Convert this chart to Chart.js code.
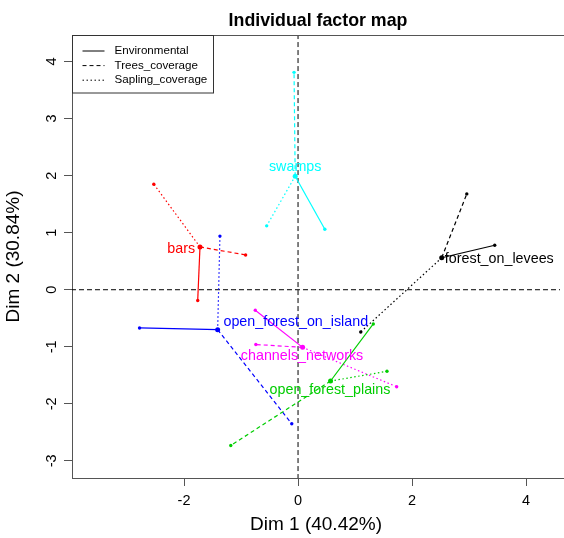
<!DOCTYPE html>
<html>
<head>
<meta charset="utf-8">
<title>Individual factor map</title>
<script src="https://cdn.jsdelivr.net/npm/chart.js@4.4.1/dist/chart.umd.min.js"></script>
<style>
  html, body { margin: 0; padding: 0; background: #fff; }
  #wrap { position: relative; width: 564px; height: 538px; }
</style>
</head>
<body>
<div id="wrap"><canvas id="chart"></canvas></div>
<script>
// sites and their colours
const categories = ['forest_on_levees', 'bars', 'open_forest_plains', 'open_forest_on_island', 'swamps', 'channels_networks'];
const categoryColors = ['#000000', '#FF0000', '#00CD00', '#0000FF', '#00FFFF', '#FF00FF'];

// mean points
const meanX = [2.52, -1.72, 0.57, -1.41, -0.05, 0.08];
const meanY = [0.56, 0.75, -1.60, -0.70, 1.99, -1.01];

// partial points, one pair per group
const groups = ['Environmental', 'Trees_coverage', 'Sapling_coverage'];
const envX = [3.45, -1.76, 1.32, -2.78, 0.47, -0.75];
const envY = [0.78, -0.19, -0.60, -0.67, 1.06, -0.36];
const treesX = [2.96, -0.92, -1.18, -0.11, -0.07, -0.74];
const treesY = [1.68, 0.61, -2.73, -2.35, 3.81, -0.96];
const saplingX = [1.10, -2.53, 1.56, -1.37, -0.55, 1.73];
const saplingY = [-0.74, 1.85, -1.43, 0.94, 1.12, -1.70];

// where each site name sits (data units)
const labelX = [3.53, -2.05, 0.56, -0.04, -0.05, 0.07];
const labelY = [0.54, 0.71, -1.75, -0.57, 2.15, -1.17];

const xTicks = [-2, 0, 2, 4];
const yTicks = [-3, -2, -1, 0, 1, 2, 3, 4];
const xRange = [-3.965, 4.595];
const yRange = [-3.30, 4.465];

const groupX = [envX, treesX, saplingX];
const groupY = [envY, treesY, saplingY];
const groupDash = [[], [4, 3], [1.5, 2.5]];

const FONT = '"Liberation Sans", Arial, sans-serif';

let datasets = [];
categories.forEach((name, i) => {
    groups.forEach((g, k) => {
        datasets.push({
            label: name + ' - ' + g,
            data: [{x: meanX[i], y: meanY[i]}, {x: groupX[k][i], y: groupY[k][i]}],
            showLine: true,
            borderColor: categoryColors[i],
            backgroundColor: categoryColors[i],
            borderWidth: 1.2,
            borderDash: groupDash[k],
            pointRadius: [0, 1.7],
            pointBorderWidth: 0,
        });
    });
});

datasets.push({
    label: 'means',
    data: categories.map((c, i) => ({x: meanX[i], y: meanY[i]})),
    showLine: false,
    backgroundColor: categoryColors,
    pointRadius: 2.5,
    pointBorderWidth: 0,
});

// dashed axes through the origin
datasets.push({
    label: 'x0',
    data: [{x: 0, y: yRange[0] - 1}, {x: 0, y: yRange[1] + 1}],
    showLine: true, borderColor: '#000', borderWidth: 1, borderDash: [5, 3],
    pointRadius: 0, order: 10,
});
datasets.push({
    label: 'y0',
    data: [{x: xRange[0] - 1, y: 0}, {x: xRange[1] + 1, y: 0}],
    showLine: true, borderColor: '#000', borderWidth: 1, borderDash: [5, 3],
    pointRadius: 0, order: 10,
});

const siteLabels = {
    id: 'siteLabels',
    afterDatasetsDraw(chart) {
        const {ctx, scales: {x, y}} = chart;
        ctx.save();
        ctx.font = '14.3px ' + FONT;
        ctx.textAlign = 'center';
        ctx.textBaseline = 'middle';
        categories.forEach((name, i) => {
            ctx.fillStyle = categoryColors[i];
            ctx.fillText(name, x.getPixelForValue(labelX[i]), y.getPixelForValue(labelY[i]));
        });
        ctx.restore();
    }
};

// frame lines running to the edge, main title and the line-type legend
const frame = {
    id: 'frame',
    afterDraw(chart) {
        const {ctx, chartArea: a} = chart;
        ctx.save();
        ctx.strokeStyle = '#555';
        ctx.lineWidth = 1;
        ctx.beginPath();
        ctx.moveTo(a.left, Math.round(a.top) + 0.5);
        ctx.lineTo(chart.width, Math.round(a.top) + 0.5);
        ctx.moveTo(a.right - 1, Math.round(a.bottom) + 0.5);
        ctx.lineTo(chart.width, Math.round(a.bottom) + 0.5);
        ctx.stroke();

        ctx.fillStyle = '#000';
        ctx.font = 'bold 17.8px ' + FONT;
        ctx.textAlign = 'center';
        ctx.textBaseline = 'alphabetic';
        ctx.fillText('Individual factor map', (a.left + chart.width) / 2, 25.5);

        const left = Math.round(a.left) + 0.5, top = Math.round(a.top) + 0.5;
        ctx.strokeStyle = '#333';
        ctx.strokeRect(left, top, 141, 57.5);
        ctx.font = '11.6px ' + FONT;
        ctx.textAlign = 'left';
        ctx.textBaseline = 'middle';
        groups.forEach((g, k) => {
            const yy = top + 15.5 + k * 14.6;
            ctx.setLineDash(groupDash[k]);
            ctx.strokeStyle = '#000';
            ctx.beginPath();
            ctx.moveTo(left + 10, yy);
            ctx.lineTo(left + 32, yy);
            ctx.stroke();
            ctx.fillText(g, left + 42, yy);
        });
        ctx.restore();
    }
};

new Chart(document.getElementById('chart'), {
    type: 'scatter',
    data: {datasets: datasets},
    options: {
        responsive: true,
        maintainAspectRatio: false,
        animation: false,
        events: [],
        layout: {padding: {top: 35, left: 0, right: 0, bottom: 0}},
        plugins: {
            legend: {display: false},
            tooltip: {enabled: false},
        },
        scales: {
            x: {
                type: 'linear',
                min: xRange[0],
                max: xRange[1],
                afterBuildTicks: (s) => { s.ticks = xTicks.map(v => ({value: v})); },
                afterFit: (s) => { s.height = 60; s.paddingLeft = 0; s.paddingRight = 0; },
                grid: {drawOnChartArea: false, drawTicks: true, tickLength: 8, color: '#555'},
                border: {color: '#555', width: 1},
                ticks: {color: '#000', font: {family: FONT, size: 14.5}, padding: 6, autoSkip: false, maxRotation: 0},
                title: {display: true, text: 'Dim 1 (40.42%)', color: '#000', font: {family: FONT, size: 19}, padding: {top: 0, bottom: 1.7}},
            },
            y: {
                type: 'linear',
                min: yRange[0],
                max: yRange[1],
                afterBuildTicks: (s) => { s.ticks = yTicks.map(v => ({value: v})); },
                afterFit: (s) => { s.width = 72; s.paddingTop = 0; s.paddingBottom = 0; },
                grid: {drawOnChartArea: false, drawTicks: true, tickLength: 8, color: '#555'},
                border: {color: '#555', width: 1},
                ticks: {color: '#000', font: {family: FONT, size: 14.5}, padding: 6, autoSkip: false,
                        minRotation: 90, maxRotation: 90, crossAlign: 'center'},
                title: {display: true, text: 'Dim 2 (30.84%)', color: '#000', font: {family: FONT, size: 19}, padding: {top: 2.2, bottom: 0}},
            }
        }
    },
    plugins: [siteLabels, frame]
});
</script>
</body>
</html>
